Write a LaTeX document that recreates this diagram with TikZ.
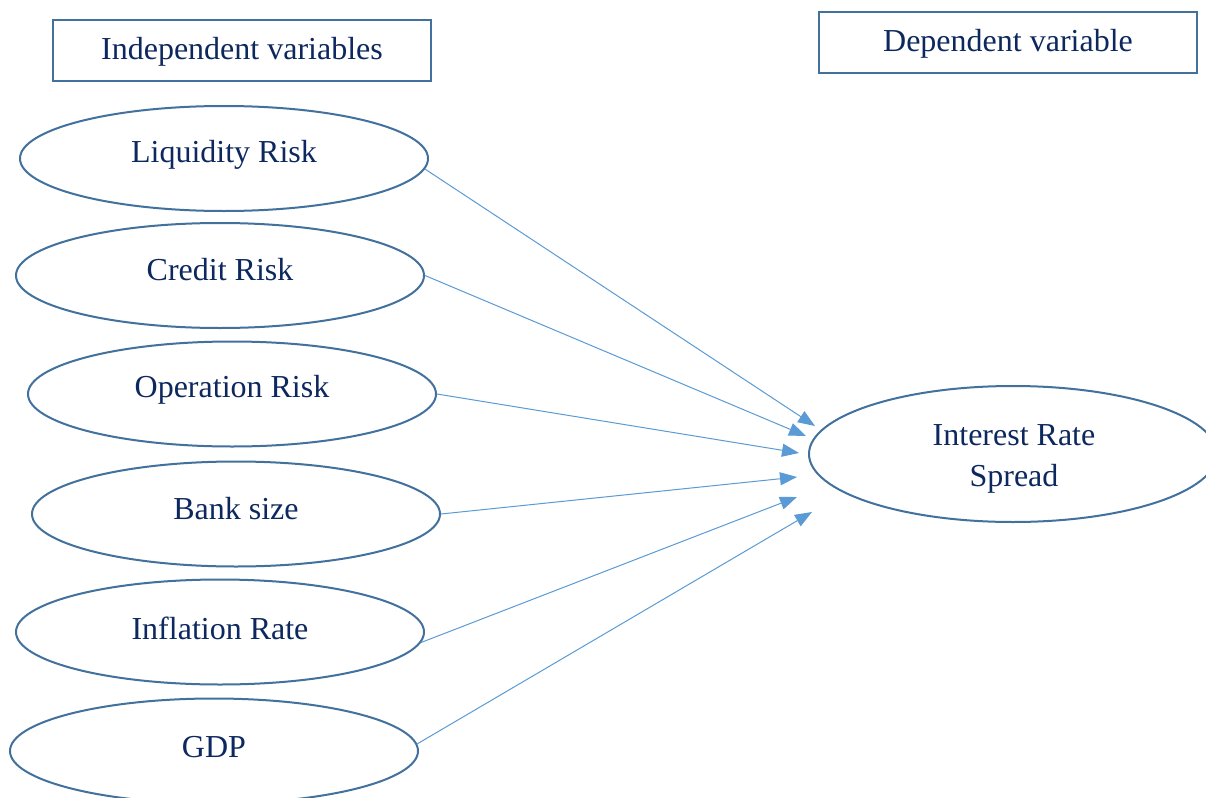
\documentclass[tikz,border=0pt]{standalone}
\usepackage{fontspec}
\setmainfont{Liberation Serif}
\usetikzlibrary{shapes.geometric,arrows.meta}
\definecolor{txtc}{RGB}{13,40,95}
\definecolor{outl}{RGB}{65,113,156}
\definecolor{arrc}{RGB}{91,155,213}
\tikzset{
  lbl/.style={font=\fontsize{16}{20.5}\selectfont, text=txtc},
  hdr/.style={draw=outl, line width=1pt, rectangle, minimum width=189pt, minimum height=30.5pt, inner sep=0pt},
  var/.style={draw=outl, line width=1pt, ellipse, minimum width=204pt, minimum height=52.5pt, inner sep=0pt},
  conn/.style={draw=arrc, line width=0.5pt, -{Triangle[length=8.5pt,width=6.5pt]}, arrc}
}
\begin{document}
\begin{tikzpicture}[x=0.5pt,y=-0.5pt]
\useasboundingbox (0,0) rectangle (1206,798);
\fill[white] (0,0) rectangle (1206,798);
\node[hdr] (ind) at (242,50.5) {};
\node[lbl] (indt) at (242,52) {Independent variables};
\node[hdr] (dep) at (1008,42.5) {};
\node[lbl] (dept) at (1008,44) {Dependent variable};

\node[var] (liq) at (224,158.5) {};
\node[lbl] (liqt) at (224,155) {Liquidity Risk};
\node[var] (cre) at (220,275.5) {};
\node[lbl] (cret) at (220,270) {Credit Risk};
\node[var] (ope) at (232,394) {};
\node[lbl] (opet) at (232,390) {Operation Risk};
\node[var] (ban) at (236,514) {};
\node[lbl] (bant) at (236,509) {Bank size};
\node[var] (inf) at (220,632) {};
\node[lbl] (inft) at (220,628) {Inflation Rate};
\node[var] (gdp) at (214,751) {};
\node[lbl] (gdpt) at (214,747) {GDP};

\node[draw=outl, line width=1pt, ellipse, minimum width=204pt, minimum height=68pt, inner sep=0pt] (irs) at (1013,454) {};
\node[lbl, align=center] (irst) at (1014,459) {Interest Rate\\Spread};

\coordinate (t1) at (815,426);
\coordinate (t2) at (806,436);
\coordinate (t3) at (799,453);
\coordinate (t4) at (797,477);
\coordinate (t5) at (797,497);
\coordinate (t6) at (812,512);

\draw[conn] (liq.-3.2) -- (t1);
\draw[conn] (cre.-0.4) -- (t2);
\draw[conn] (ope.-0.3) -- (t3);
\draw[conn] (ban.0.6) -- (t4);
\draw[conn] (inf.-3.6) -- (t5);
\draw[conn] (gdp.2.2) -- (t6);
\end{tikzpicture}
\end{document}
